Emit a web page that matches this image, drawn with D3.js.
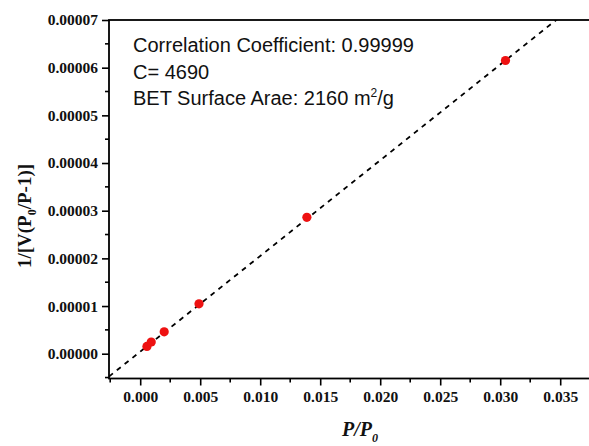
<!DOCTYPE html>
<meta charset="utf-8">
<script src="https://d3js.org/d3.v7.min.js"></script>
<style>
  body { margin: 0; background: #fff; }
</style>
<div id="my_dataviz"></div>
<script>

// measured BET points (P/P0, 1/[V(P0/P-1)])
var relPressure = [0.00056, 0.00092, 0.0020, 0.0049, 0.01389, 0.03044];
var betValue = [0.00000153, 0.00000246, 0.0000046, 0.00001046, 0.0000286, 0.0000615];

// linear fit
var fitSlope = 0.002007;
var fitIntercept = 0.00000043;

var xTicks = [0.000, 0.005, 0.010, 0.015, 0.020, 0.025, 0.030, 0.035];
var yTicks = [0.00000, 0.00001, 0.00002, 0.00003, 0.00004, 0.00005, 0.00006, 0.00007];

var notes = ["Correlation Coefficient: 0.99999", "C= 4690"];

var W = 589, H = 446;
var mLeft = 109, mTop = 20, mRight = 590.2, mBottom = 378.5;

var svg = d3.select("#my_dataviz")
  .append("svg")
    .attr("width", W)
    .attr("height", H);

var x = d3.scaleLinear()
  .domain([-0.0026, 0.0375])
  .range([mLeft, mRight]);

var y = d3.scaleLinear()
  .domain([-0.0000052, 0.00007])
  .range([mBottom, mTop]);

var serif = "'Liberation Serif', 'Times New Roman', serif";

// minor ticks
var xMinor = [-0.0025, 0.0025, 0.0075, 0.0125, 0.0175, 0.0225, 0.0275, 0.0325, 0.0375];
var yMinor = [-0.000005, 0.000005, 0.000015, 0.000025, 0.000035, 0.000045, 0.000055, 0.000065];

// X axis
var gx = svg.append("g")
  .attr("transform", "translate(0," + mBottom + ")")
  .call(d3.axisBottom(x).tickValues(xTicks).tickSize(7).tickPadding(5)
    .tickFormat(d3.format(".3f")));
gx.select(".domain").remove();
gx.selectAll("line").attr("stroke-width", 1.6);
gx.selectAll("text")
  .attr("font-family", serif)
  .attr("font-weight", "bold")
  .attr("font-size", "15.5px")
  .attr("fill", "#111");
svg.append("g").selectAll("line")
  .data(xMinor).enter().append("line")
    .attr("x1", function(d) { return x(d); })
    .attr("x2", function(d) { return x(d); })
    .attr("y1", mBottom)
    .attr("y2", mBottom + 4)
    .attr("stroke", "#000")
    .attr("stroke-width", 1.6);

// Y axis
var gy = svg.append("g")
  .attr("transform", "translate(" + mLeft + ",0)")
  .call(d3.axisLeft(y).tickValues(yTicks).tickSize(7).tickPadding(4)
    .tickFormat(d3.format(".5f")));
gy.select(".domain").remove();
gy.selectAll("line").attr("stroke-width", 1.6);
gy.selectAll("text")
  .attr("font-family", serif)
  .attr("font-weight", "bold")
  .attr("font-size", "15.5px")
  .attr("fill", "#111");
svg.append("g").selectAll("line")
  .data(yMinor).enter().append("line")
    .attr("x1", mLeft)
    .attr("x2", mLeft - 4)
    .attr("y1", function(d) { return y(d); })
    .attr("y2", function(d) { return y(d); })
    .attr("stroke", "#000")
    .attr("stroke-width", 1.6);

// frame
svg.append("rect")
  .attr("x", mLeft)
  .attr("y", mTop)
  .attr("width", mRight - mLeft)
  .attr("height", mBottom - mTop)
  .attr("fill", "none")
  .attr("stroke", "#000")
  .attr("stroke-width", 1.8);

// fit line, clipped to the plot area
svg.append("clipPath").attr("id", "plotclip")
  .append("rect")
    .attr("x", mLeft).attr("y", mTop)
    .attr("width", mRight - mLeft).attr("height", mBottom - mTop);

var xs = x.domain();
var fitLine = [[xs[0], fitSlope * xs[0] + fitIntercept], [xs[1], fitSlope * xs[1] + fitIntercept]];
svg.append("path")
  .datum(fitLine)
  .attr("clip-path", "url(#plotclip)")
  .attr("fill", "none")
  .attr("stroke", "#000")
  .attr("stroke-width", 1.8)
  .attr("stroke-dasharray", "5,5")
  .attr("d", d3.line()
    .x(function(d) { return x(d[0]); })
    .y(function(d) { return y(d[1]); }));

// points
svg.append("g").selectAll("circle")
  .data(relPressure).enter().append("circle")
    .attr("cx", function(d) { return x(d); })
    .attr("cy", function(d, i) { return y(betValue[i]); })
    .attr("r", 4.6)
    .attr("fill", "#ee1111");

// annotations
var sans = "'Liberation Sans', Arial, sans-serif";
svg.selectAll(".note")
  .data(notes).enter().append("text")
    .attr("class", "note")
    .attr("x", 133)
    .attr("y", function(d, i) { return 52 + i * 26.5; })
    .attr("font-family", sans)
    .attr("font-size", "20px")
    .attr("fill", "#111")
    .text(function(d) { return d; });

var bet = svg.append("text")
  .attr("x", 133)
  .attr("y", 105)
  .attr("font-family", sans)
  .attr("font-size", "20px")
  .attr("fill", "#111");
bet.append("tspan").text("BET Surface Arae: 2160 m");
bet.append("tspan").attr("font-size", "12px").attr("dy", -8).text("2");
bet.append("tspan").attr("dy", 8).text("/g");

// axis titles
var xt = svg.append("text")
  .attr("x", 360)
  .attr("y", 436)
  .attr("text-anchor", "middle")
  .attr("font-family", serif)
  .attr("font-weight", "bold")
  .attr("font-style", "italic")
  .attr("font-size", "20px")
  .attr("fill", "#111");
xt.append("tspan").text("P/P");
xt.append("tspan").attr("font-size", "12px").attr("dy", 6).text("0");

var yt = svg.append("text")
  .attr("transform", "translate(31,216) rotate(-90)")
  .attr("text-anchor", "middle")
  .attr("font-family", serif)
  .attr("font-weight", "bold")
  .attr("font-size", "19px")
  .attr("fill", "#111");
yt.append("tspan").text("1/[V(P");
yt.append("tspan").attr("font-size", "12px").attr("dy", 5).text("0");
yt.append("tspan").attr("dy", -5).text("/P-1)]");

</script>
